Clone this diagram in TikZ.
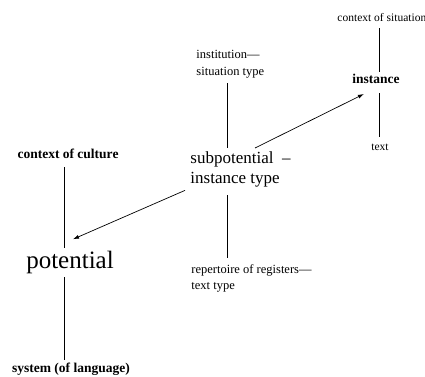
\documentclass[tikz,border=0pt]{standalone}
\usepackage{fontspec}
\setmainfont{Liberation Serif}
\usetikzlibrary{calc,arrows.meta}
\begin{document}
\begin{tikzpicture}[x=1pt,y=-1pt,inner sep=0pt,line width=0.9pt,
  big/.style={font=\fontsize{25}{30}\selectfont},
  mid/.style={font=\fontsize{17}{20}\selectfont,align=left},
  bold/.style={font=\fontsize{13.5}{16}\selectfont\bfseries},
  small/.style={font=\fontsize{11.5}{16.5}\selectfont,align=left},
  note/.style={font=\fontsize{12.5}{16.5}\selectfont,align=left},
  arr/.style={line width=0.7pt,-{Latex[length=6pt,width=4pt]}}]
\useasboundingbox (0,0) rectangle (425,376);
\coordinate(axL) at (64,0);
\coordinate(axM) at (227,0);
\coordinate(axR) at (379,0);

\node[bold,anchor=base](cc) at (68,158){context of culture};
\node[big,anchor=base](pot) at (70,268){potential};
\node[bold,anchor=base](sys) at (71,372){system (of language)};
\node[mid,anchor=north west](sub) at (190,151){subpotential \ –\\instance type};
\node[note,anchor=north west](inst) at (196,50){institution—\\situation type};
\node[note,anchor=north west](rep) at (191,264){repertoire of registers—\\text type};
\node[small,anchor=base west](cs) at (337,21){context of situation};
\node[bold,anchor=base](ins) at (376,83){instance};
\node[small,anchor=base](txt) at (380,150){text};

\draw ($(cc.base -| axL)+(0,9)$) -- ($(pot.base -| axL)+(0,-20)$);
\draw ($(pot.base -| axL)+(0,9)$) -- ($(sys.base -| axL)+(0,-12)$);
\draw ($(inst.south -| axM)+(0,5)$) -- ($(sub.north -| axM)+(0,-3)$);
\draw ($(sub.south -| axM)+(0,8)$) -- ($(rep.north -| axM)+(0,-6)$);
\draw ($(cs.base -| axR)+(0,7)$) -- ($(ins.base -| axR)+(0,-11)$);
\draw ($(ins.base -| axR)+(0,10)$) -- ($(txt.base -| axR)+(0,-13)$);

\draw[arr] ($(sub.north west)+(65,-3)$) -- ($(ins.base west)+(12,11)$);
\draw[arr] ($(sub.south west)+(-5,3)$) -- ($(pot.north)+(3,-11)$);
\end{tikzpicture}
\end{document}
